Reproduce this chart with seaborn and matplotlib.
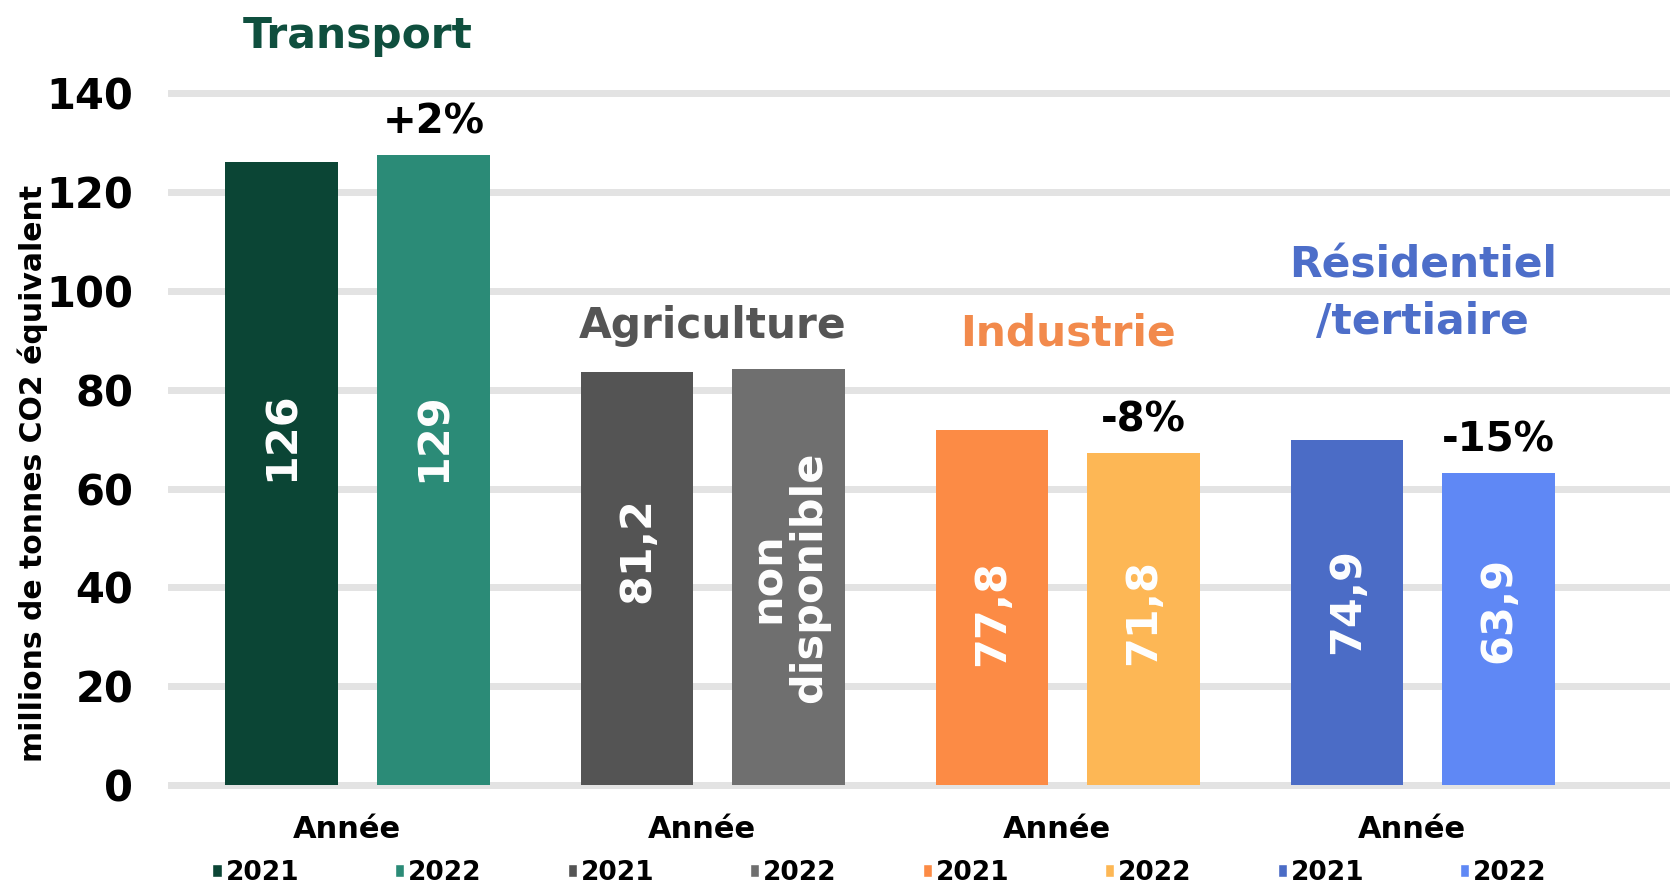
import matplotlib
matplotlib.use("Agg")
import matplotlib.pyplot as plt
import matplotlib.transforms as mtransforms
from matplotlib.patches import Patch
from matplotlib.legend import Legend
import pandas as pd
import seaborn as sns

# ---------------- data ----------------
sectors = ["Transport", "Agriculture", "Industrie", "Résidentiel\n/tertiaire"]
years = ["2021", "2022"]
# bar heights as drawn in the infographic (millions de tonnes CO2 éq.)
values_2021 = [126.0, 83.6, 71.8, 69.8]
values_2022 = [127.5, 84.2, 67.2, 63.1]
# printed value labels
labels_2021 = ["126", "81,2", "77,8", "74,9"]
labels_2022 = ["129", "non\ndisponible", "71,8", "63,9"]
changes = ["+2%", "", "-8%", "-15%"]
y_ticks = [0, 20, 40, 60, 80, 100, 120, 140]
y_label = "millions de tonnes CO2 équivalent"
legend_title = "Année"

colors_2021 = ["#0b4535", "#545454", "#fc8b45", "#4b6cc6"]
colors_2022 = ["#2b8b77", "#6f6f6f", "#fdb755", "#5f88f5"]
title_colors = ["#0f4f3e", "#555555", "#f28a4c", "#4d6ec9"]

# ---------------- layout (not data) ----------------
label_y_2021 = [70.5, 47.5, 34.8, 37.2]
label_y_2022 = [70.3, 42.0, 35.0, 35.4]
title_y = [151.5, 92.9, 91.4, 99.4]

sns.set_theme(style="white")
plt.rcParams["font.family"] = ["DejaVu Sans"]
plt.rcParams["text.color"] = "black"
plt.rcParams["axes.labelcolor"] = "black"
plt.rcParams["ytick.color"] = "black"

df = pd.DataFrame({
    "sector": sectors * 2,
    "year": [years[0]] * len(sectors) + [years[1]] * len(sectors),
    "value": values_2021 + values_2022,
})

fig = plt.figure(figsize=(16.7, 8.93), dpi=100)
ax = fig.add_axes([0.1006, 0.1041, 0.8994, 0.8735])

sns.barplot(data=df, x="sector", y="value", hue="year", order=sectors,
            hue_order=years, width=0.854, gap=0.257, legend=False,
            saturation=1, ax=ax)

for cont, cols in zip(ax.containers, [colors_2021, colors_2022]):
    for bar, c in zip(cont, cols):
        bar.set_facecolor(c)
        bar.set_edgecolor("none")

ax.set_xlim(-0.534, 3.696)
ax.set_ylim(-3.03, 154.8)
ax.set_xticks([])
ax.set_xlabel("")
ax.set_yticks(y_ticks)
ax.tick_params(axis="y", length=0, pad=25, labelsize=30, labelcolor="black")
for t in ax.get_yticklabels():
    t.set_fontweight("bold")
ax.set_ylabel(y_label, fontsize=21.5, fontweight="bold", color="black")
ax.yaxis.set_label_coords(-0.0799, 0.419)
ax.grid(axis="y", color="#e3e3e3", linewidth=5)
ax.grid(axis="x", visible=False)
ax.set_axisbelow(True)
sns.despine(ax=ax, left=True, bottom=True)

# value labels inside bars
for cont, labs, ys in zip(ax.containers, [labels_2021, labels_2022],
                          [label_y_2021, label_y_2022]):
    for bar, lab, yy in zip(cont, labs, ys):
        cx = bar.get_x() + bar.get_width() / 2
        ax.text(cx, yy, lab, rotation=90, ha="center", va="center",
                color="white", fontsize=31, fontweight="bold",
                multialignment="center", linespacing=1.0)

# change labels above 2022 bars
for bar, chg in zip(ax.containers[1], changes):
    if chg:
        cx = bar.get_x() + bar.get_width() / 2
        ax.annotate(chg, xy=(cx, bar.get_height()), xytext=(0, 23.5),
                    textcoords="offset points", ha="center", va="center",
                    fontsize=29, fontweight="bold", color="black")

# sector titles
for i, (name, col, ty) in enumerate(zip(sectors, title_colors, title_y)):
    ax.text(i, ty, name, ha="center", va="center", color=col,
            fontsize=30.5, fontweight="bold", linespacing=1.45,
            multialignment="center")

# per-group legends
blend = mtransforms.blended_transform_factory(ax.transData, fig.transFigure)
for i in range(len(sectors)):
    handles = [Patch(facecolor=colors_2021[i]), Patch(facecolor=colors_2022[i])]
    leg = Legend(ax, handles, years, title=legend_title, loc="upper center",
                 bbox_to_anchor=(i - 0.03, 0.087), bbox_transform=blend,
                 ncol=2, frameon=False, fontsize=19,
                 title_fontproperties={"weight": "bold", "size": 22},
                 handlelength=0.36, handleheight=0.36, handletextpad=0.15,
                 columnspacing=3.6, borderpad=0, labelspacing=0.6,
                 borderaxespad=0)
    leg.get_title().set_color("black")
    for t in leg.get_texts():
        t.set_fontweight("bold")
        t.set_color("black")
    ax.add_artist(leg)

fig.savefig("out.png", dpi=100)
